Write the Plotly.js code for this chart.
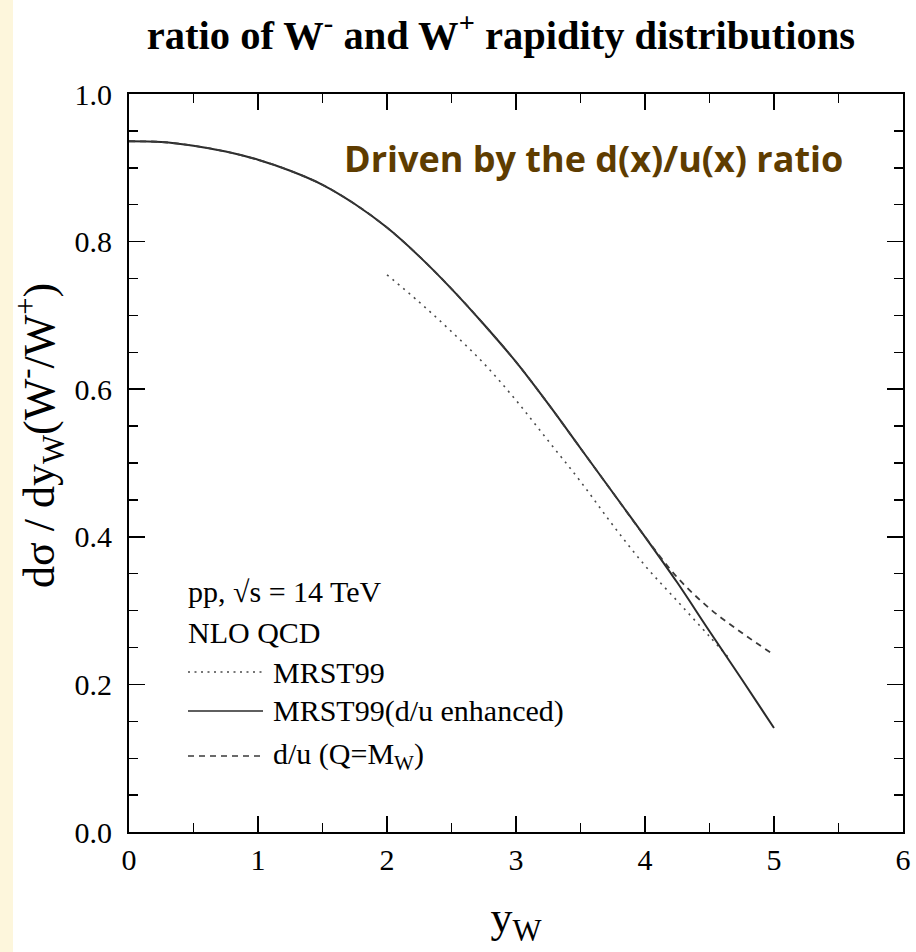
<!DOCTYPE html>
<html>
<head>
<meta charset="utf-8">
<script src="https://cdn.plot.ly/plotly-3.0.1.min.js"></script>
<style>
  html, body { margin: 0; padding: 0; background: #ffffff; }
  #chart { width: 916px; height: 952px; }
</style>
</head>
<body>
<div id="chart"></div>
<script>
// W-/W+ rapidity ratio, pp at sqrt(s) = 14 TeV, NLO QCD
const yW = [0, 0.25, 0.5, 0.75, 1, 1.25, 1.5, 1.75, 2, 2.25, 2.5, 2.75, 3, 3.25, 3.5, 3.75, 4, 4.25, 4.5, 4.75, 5];

// MRST99 with enhanced d/u (solid)
const ratioEnhanced = [0.936, 0.935, 0.930, 0.922, 0.911, 0.896, 0.877, 0.851, 0.819, 0.780, 0.736, 0.688, 0.637, 0.580, 0.520, 0.460, 0.400, 0.338, 0.272, 0.207, 0.141];

// d/u evaluated at Q = M_W (dashed)
const ratioDU = [0.936, 0.935, 0.930, 0.922, 0.911, 0.896, 0.877, 0.851, 0.819, 0.780, 0.736, 0.688, 0.637, 0.580, 0.520, 0.460, 0.400, 0.345, 0.303, 0.270, 0.240];

// standard MRST99 (dotted), computed from y = 2
const yWStd = [2, 2.25, 2.5, 2.75, 3, 3.25, 3.5, 3.75, 4, 4.25, 4.5, 4.65];
const ratioStd = [0.755, 0.718, 0.678, 0.635, 0.585, 0.530, 0.475, 0.416, 0.361, 0.313, 0.265, 0.236];

const legendLabels = ['MRST99', 'MRST99(d/u enhanced)', 'd/u (Q=M<sub>W</sub>)'];
const headerLines = ['pp, \u221As = 14 TeV', 'NLO QCD'];
const yTitle = 'd\u03C3 / dy<sub>W</sub>(W<sup>-</sup>/W<sup>+</sup>)';

const SERIF = 'Liberation Serif, Times New Roman, serif';

// plot area in pixels
const L = 129, R = 13, T = 94, B = 120, W = 916, H = 952;
const PW = W - L - R, PH = H - T - B;
const px = x => (x - L) / PW;
const py = y => (H - B - y) / PH;

const styles = {
  dotted: { color: '#4a4a4a', width: 1.6, dash: '2px,5px', shape: 'spline', smoothing: 1 },
  solid:  { color: '#2a2a2a', width: 2.0, dash: 'solid', shape: 'spline', smoothing: 1 },
  dashed: { color: '#3a3a3a', width: 1.8, dash: '6px,5px', shape: 'spline', smoothing: 1 }
};

const traces = [
  { x: yWStd, y: ratioStd, mode: 'lines', line: styles.dotted, name: legendLabels[0] },
  { x: yW, y: ratioEnhanced, mode: 'lines', line: styles.solid, name: legendLabels[1] },
  { x: yW, y: ratioDU, mode: 'lines', line: styles.dashed, name: legendLabels[2] }
];

const rows = [672, 711, 756];
const sampleStyles = [
  { color: '#4a4a4a', width: 1.4, dash: '2px,4.5px' },
  { color: '#2a2a2a', width: 1.6, dash: 'solid' },
  { color: '#3a3a3a', width: 1.5, dash: '6px,5px' }
];

const shapes = [
  // pale strip along the left edge
  { type: 'rect', xref: 'paper', yref: 'paper', layer: 'below',
    x0: px(0), x1: px(13), y0: py(H), y1: py(0),
    fillcolor: '#fdf6dc', line: { width: 0 } }
];
rows.forEach((r, i) => {
  shapes.push({ type: 'line', xref: 'paper', yref: 'paper',
    x0: px(188), x1: px(263), y0: py(r), y1: py(r), line: sampleStyles[i] });
});

const annotations = [
  { xref: 'paper', yref: 'paper', x: px(342), y: py(158), xanchor: 'left', yanchor: 'middle',
    text: '<b>Driven by the d(x)/u(x) ratio</b>', showarrow: false,
    font: { family: 'Open Sans, Lato, sans-serif', size: 36, color: '#5e3c00' } },
  // vertical axis title, sitting a little above the plot's mid-height
  { xref: 'paper', yref: 'paper', x: px(40), y: py(436), xanchor: 'center', yanchor: 'middle',
    text: yTitle, textangle: -90, showarrow: false,
    font: { family: SERIF, size: 44, color: '#000' } }
];
headerLines.forEach((t, i) => {
  annotations.push({ xref: 'paper', yref: 'paper', x: px(186), y: py([591, 632][i]),
    xanchor: 'left', yanchor: 'middle', text: t, showarrow: false,
    font: { family: SERIF, size: 30, color: '#000' } });
});
legendLabels.forEach((t, i) => {
  annotations.push({ xref: 'paper', yref: 'paper', x: px(271), y: py(rows[i]),
    xanchor: 'left', yanchor: 'middle', text: t, showarrow: false,
    font: { family: SERIF, size: 30, color: '#000' } });
});

const axisCommon = {
  showline: true, linecolor: '#000', linewidth: 2, mirror: 'ticks',
  ticks: 'inside', ticklen: 16, tickwidth: 1.6, tickcolor: '#000',
  showgrid: false, zeroline: false, fixedrange: true,
  tickfont: { family: SERIF, size: 30, color: '#000' }
};

const layout = {
  width: W, height: H,
  margin: { l: L, r: R, t: T, b: B },
  paper_bgcolor: '#ffffff', plot_bgcolor: '#ffffff',
  showlegend: false,
  title: {
    text: '<b>ratio of W<sup>-</sup> and W<sup>+</sup> rapidity distributions</b>',
    xref: 'container', yref: 'container', x: 501 / W, y: 1 - 35 / H,
    xanchor: 'center', yanchor: 'middle',
    font: { family: SERIF, size: 40.5, color: '#000' }
  },
  xaxis: Object.assign({}, axisCommon, {
    range: [0, 6], dtick: 1, tick0: 0,
    minor: { dtick: 0.5, ticklen: 9, tickwidth: 1.4, tickcolor: '#000', ticks: 'inside' },
    title: { text: 'y<sub>W</sub>', standoff: 26, font: { family: SERIF, size: 44, color: '#000' } }
  }),
  yaxis: Object.assign({}, axisCommon, {
    range: [0, 1], dtick: 0.2, tick0: 0, tickformat: '.1f', ticklabelstandoff: 9,
    minor: { dtick: 0.05, ticklen: 9, tickwidth: 1.4, tickcolor: '#000', ticks: 'inside' }
  }),
  shapes: shapes,
  annotations: annotations
};

Plotly.newPlot('chart', traces, layout, { displayModeBar: false, staticPlot: true });
</script>
</body>
</html>
